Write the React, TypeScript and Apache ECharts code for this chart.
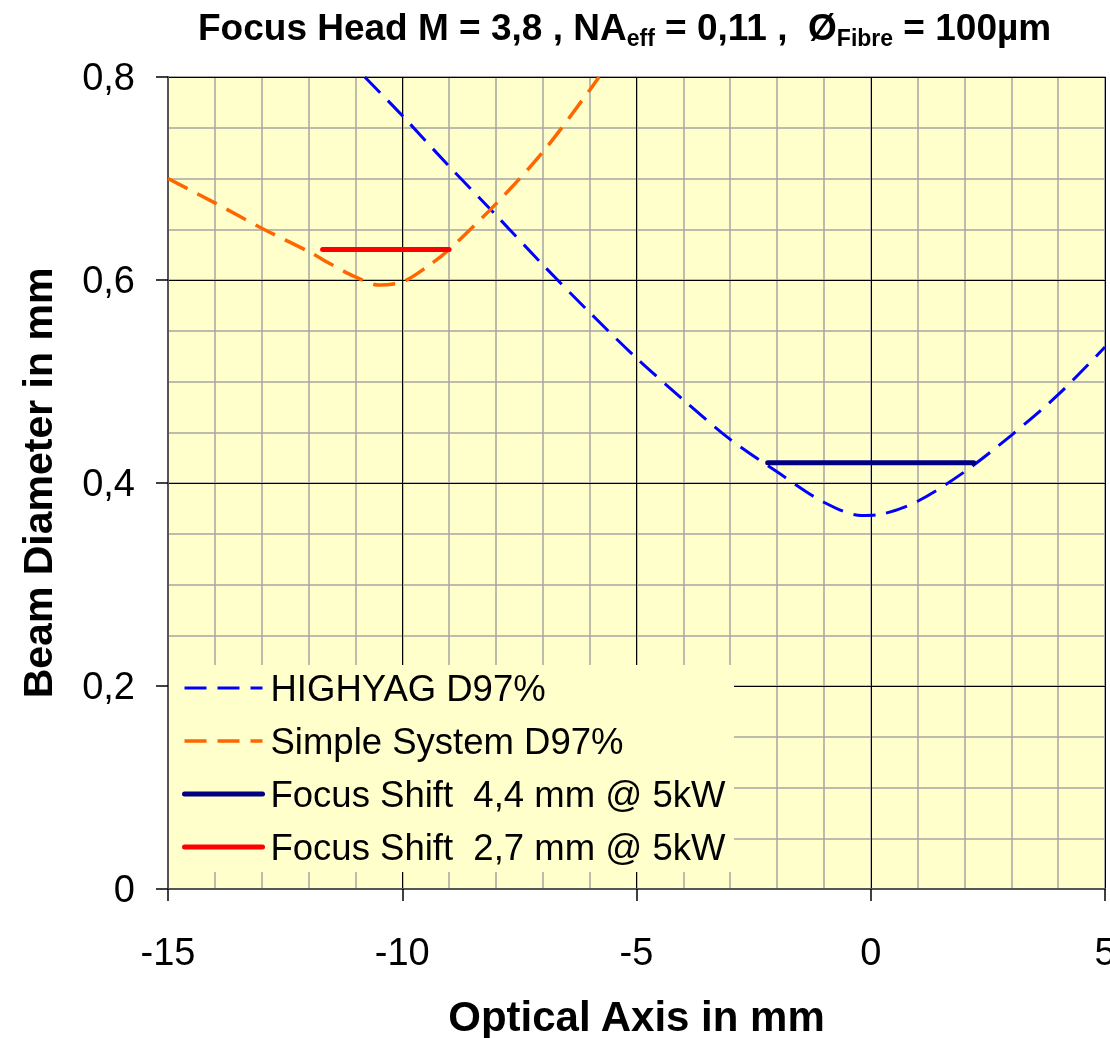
import React, { useEffect, useRef } from "react";
import * as echarts from "echarts";

const highyagX = [-10.8, -10, -9, -8, -7, -6, -5, -4, -3, -2, -1, -0.2, 0.2, 1, 2, 3, 4, 5];
const highyagY = [0.8, 0.762, 0.712, 0.664, 0.615, 0.568, 0.523, 0.482, 0.443, 0.411, 0.381, 0.368, 0.369, 0.382, 0.411, 0.447, 0.487, 0.534];

const simpleX = [-15, -14, -13, -12, -11.5, -11, -10.5, -10, -9.5, -9, -8, -7, -6, -5.8];
const simpleY = [0.7, 0.676, 0.651, 0.628, 0.615, 0.603, 0.595, 0.598, 0.612, 0.63, 0.675, 0.726, 0.787, 0.8];

const shift44X = [-2.2, 2.2];
const shift44Y = [0.42, 0.42];
const shift27X = [-11.7, -9.0];
const shift27Y = [0.63, 0.63];

const seriesNames = [
  "HIGHYAG D97%",
  "Simple System D97%",
  "Focus Shift  4,4 mm @ 5kW",
  "Focus Shift  2,7 mm @ 5kW",
];

const xMin = -15;
const xMax = 5;
const yMin = 0;
const yMax = 0.8;

const zip = (xs: number[], ys: number[]) => xs.map((x, i) => [x, ys[i]]);

const FONT = "'Liberation Sans', Arial, sans-serif";

export default function App() {
  const ref = useRef<HTMLDivElement>(null);
  useEffect(() => {
    if (!ref.current) return;
    const chart = echarts.init(ref.current, undefined, { renderer: "svg" });
    const minorLine = { show: true, lineStyle: { color: "#a4a4a4", width: 1.5 } };
    chart.setOption({
      animation: false,
      textStyle: { fontFamily: FONT },
      title: {
        text: "{a|Focus Head M = 3,8 , NA}{s|eff}{a| = 0,11 ,  Ø}{s|Fibre}{a| = 100µm}",
        left: 193,
        top: 0,
        textStyle: {
          rich: {
            a: { fontSize: 37, fontWeight: "bold", lineHeight: 44, color: "#000", fontFamily: FONT },
            s: { fontSize: 23, fontWeight: "bold", lineHeight: 12, verticalAlign: "bottom", color: "#000", fontFamily: FONT },
          },
        },
      },
      grid: {
        left: 168,
        top: 77,
        right: 5,
        bottom: 149,
        outerBoundsMode: "none",
        containLabel: false,
        show: true,
        backgroundColor: "#FFFFCC",
        borderColor: "#9a9a9a",
        borderWidth: 1.5,
      },
      xAxis: [
        {
          type: "value",
          min: xMin,
          max: xMax,
          interval: 5,
          position: "bottom",
          z: 1,
          axisLine: { show: true, onZero: false, lineStyle: { color: "#555", width: 2 } },
          axisTick: { show: true, length: 12, lineStyle: { color: "#000", width: 1.5 } },
          axisLabel: { fontSize: 38, color: "#000", margin: 44, fontFamily: FONT },
          splitLine: { show: true, lineStyle: { color: "#000", width: 1 } },
          name: "Optical Axis in mm",
          nameLocation: "middle",
          nameGap: 107,
          nameTextStyle: { fontSize: 42, lineHeight: 40, fontWeight: "bold", color: "#000", fontFamily: FONT },
        },
        {
          type: "value",
          min: xMin,
          max: xMax,
          interval: 1,
          position: "top",
          z: 0,
          axisLine: { show: false },
          axisTick: { show: false },
          axisLabel: { show: false },
          splitLine: minorLine,
        },
      ],
      yAxis: [
        {
          type: "value",
          min: yMin,
          max: yMax,
          interval: 0.2,
          position: "left",
          z: 1,
          axisLine: { show: true, onZero: false, lineStyle: { color: "#555", width: 2 } },
          axisTick: { show: true, length: 12, lineStyle: { color: "#000", width: 1.5 } },
          axisLabel: {
            fontSize: 38,
            color: "#000",
            margin: 33,
            fontFamily: FONT,
            formatter: (v: number) => (v === 0 ? "0" : v.toFixed(1).replace(".", ",")),
          },
          splitLine: { show: true, lineStyle: { color: "#000", width: 1 } },
          name: "Beam Diameter in mm",
          nameLocation: "middle",
          nameGap: 110,
          nameTextStyle: { fontSize: 41, fontWeight: "bold", color: "#000", fontFamily: FONT },
        },
        {
          type: "value",
          min: yMin,
          max: yMax,
          interval: 0.05,
          position: "right",
          z: 0,
          axisLine: { show: false },
          axisTick: { show: false },
          axisLabel: { show: false },
          splitLine: minorLine,
        },
      ],
      graphic: [
        {
          type: "rect",
          z: 1.5,
          shape: { x: 169, y: 665, width: 565, height: 207 },
          style: { fill: "#FFFFCC" },
        },
      ],
      legend: {
        orient: "vertical",
        left: 182,
        top: 668,
        padding: 0,
        itemWidth: 78,
        itemHeight: 2,
        itemGap: 13,
        data: seriesNames,
        itemStyle: { opacity: 0 },
        lineStyle: { width: "inherit" },
        textStyle: { fontSize: 36.5, color: "#000", lineHeight: 40, fontFamily: FONT, padding: [0, 0, 0, 3] },
      },
      series: [
        {
          name: seriesNames[0],
          type: "line",
          xAxisIndex: 0,
          yAxisIndex: 0,
          data: zip(highyagX, highyagY),
          showSymbol: false,
          symbol: "none",
          smooth: 0.3,
          lineStyle: { color: "#0000FF", width: 3, type: [22, 11] },
          itemStyle: { color: "#0000FF" },
        },
        {
          name: seriesNames[1],
          type: "line",
          xAxisIndex: 0,
          yAxisIndex: 0,
          data: zip(simpleX, simpleY),
          showSymbol: false,
          symbol: "none",
          smooth: 0.3,
          lineStyle: { color: "#FF6600", width: 3.5, type: [22, 11] },
          itemStyle: { color: "#FF6600" },
        },
        {
          name: seriesNames[2],
          type: "line",
          xAxisIndex: 0,
          yAxisIndex: 0,
          data: zip(shift44X, shift44Y),
          showSymbol: false,
          symbol: "none",
          lineStyle: { color: "#000080", width: 5, cap: "round" },
          itemStyle: { color: "#000080" },
        },
        {
          name: seriesNames[3],
          type: "line",
          xAxisIndex: 0,
          yAxisIndex: 0,
          data: zip(shift27X, shift27Y),
          showSymbol: false,
          symbol: "none",
          lineStyle: { color: "#FF0000", width: 5, cap: "round" },
          itemStyle: { color: "#FF0000" },
        },
      ],
    });
    return () => chart.dispose();
  }, []);
  return (
    <div
      ref={ref}
      style={{ position: "fixed", left: 0, top: 0, width: 1110, height: 1038 }}
    />
  );
}
